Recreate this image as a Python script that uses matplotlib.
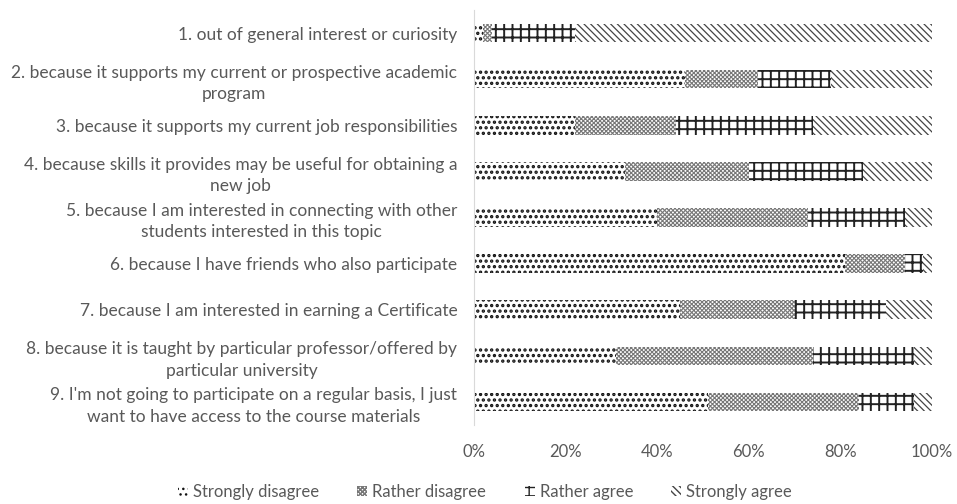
import matplotlib.pyplot as plt
import numpy as np

plt.rcParams['font.family'] = ['Lato', 'DejaVu Sans']
plt.rcParams['hatch.linewidth'] = 1.0

# Survey statements, top to bottom
reasons = [
    "1. out of general interest or curiosity",
    "2. because it supports my current or prospective academic\nprogram",
    "3. because it supports my current job responsibilities",
    "4. because skills it provides may be useful for obtaining a\nnew job",
    "5. because I am interested in connecting with other\nstudents interested in this topic",
    "6. because I have friends who also participate",
    "7. because I am interested in earning a Certificate",
    "8. because it is taught by particular professor/offered by\nparticular university",
    "9. I'm not going to participate on a regular basis, I just\nwant to have access to the course materials",
]

# Share of answers (%) per statement
strongly_disagree = [2, 46, 22, 33, 40, 81, 45, 31, 51]
rather_disagree = [2, 16, 22, 27, 33, 13, 25, 43, 33]
rather_agree = [18, 16, 30, 25, 21, 4, 20, 22, 12]
strongly_agree = [78, 22, 26, 15, 6, 2, 10, 4, 4]

series = [
    ("Strongly disagree", strongly_disagree, '...', '#111111', 1.6),
    ("Rather disagree", rather_disagree, 'xxxxxxxx', '#777777', 0.8),
    ("Rather agree", rather_agree, '++', '#222222', 1.4),
    ("Strongly agree", strongly_agree, '\\\\\\\\\\', '#444444', 0.9),
]

fig = plt.figure(figsize=(9.57, 5.04), dpi=100)
ax = fig.add_axes([474 / 957, 1 - 425 / 504, 458 / 957, 415 / 504])

y = np.arange(len(reasons))
left = np.zeros(len(reasons))
for name, vals, hatch, hcol, hlw in series:
    vals = np.array(vals, dtype=float)
    bars = ax.barh(y, vals, left=left, height=0.4, color='white', edgecolor=hcol,
                   hatch=hatch, linewidth=0, label=name)
    for b in bars:
        try:
            b.set_hatch_linewidth(hlw)
        except AttributeError:
            pass
    left += vals

ax.set_xlim(0, 100)
ax.set_ylim(len(reasons) - 0.5, -0.5)
ax.set_yticks(y)
ax.set_yticklabels(reasons, fontsize=12.5, color='#595959')
for lbl in ax.get_yticklabels():
    lbl.set_multialignment('center')
    lbl.set_linespacing(1.4)
ax.set_xticks(np.arange(0, 101, 20))
ax.set_xticklabels([f"{v}%" for v in range(0, 101, 20)], fontsize=12, color='#595959')
ax.tick_params(axis='both', length=0)
ax.tick_params(axis='y', pad=12)
ax.tick_params(axis='x', pad=14)

for s in ['top', 'right', 'bottom']:
    ax.spines[s].set_visible(False)
ax.spines['left'].set_color('#d9d9d9')

leg = fig.legend(loc='center', bbox_to_anchor=(485 / 957, 1 - 492 / 504), ncol=4,
                 frameon=False, fontsize=12, handlelength=0.6, handleheight=0.6,
                 handletextpad=0.3, columnspacing=2.3)
for t in leg.get_texts():
    t.set_color('#595959')

fig.savefig('out.png', dpi=100)
